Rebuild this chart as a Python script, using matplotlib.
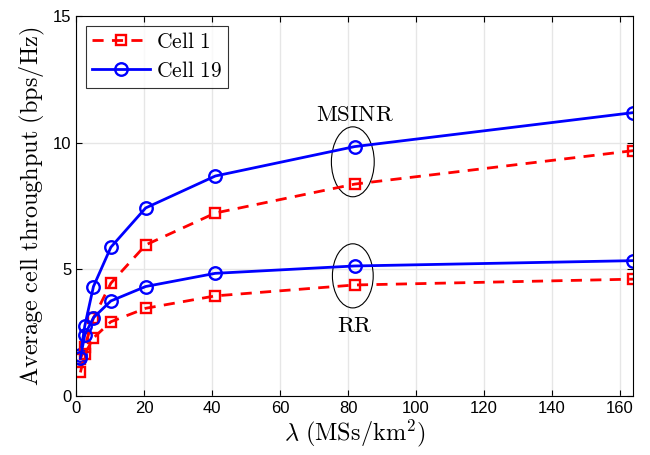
import matplotlib
matplotlib.use("Agg")
import matplotlib.pyplot as plt
from matplotlib.patches import Ellipse

plt.rcParams['mathtext.fontset'] = 'cm'
plt.rcParams['font.family'] = ['Liberation Sans', 'DejaVu Sans']

# data
lam = [1.28, 2.56, 5.12, 10.24, 20.48, 40.96, 81.92, 163.84]
cell1_msinr = [1.45, 1.95, 3.08, 4.45, 5.96, 7.22, 8.36, 9.68]
cell1_rr = [0.93, 1.65, 2.29, 2.93, 3.46, 3.95, 4.38, 4.61]
cell19_msinr = [1.60, 2.76, 4.32, 5.87, 7.42, 8.68, 9.84, 11.18]
cell19_rr = [1.49, 2.41, 3.09, 3.75, 4.32, 4.84, 5.13, 5.34]

fig = plt.figure(figsize=(6.5, 4.55), dpi=100)
ax = fig.add_axes([0.117, 0.1297, 0.857, 0.8355])

red = dict(color='r', ls='--', lw=2.0, marker='s', ms=7.5, mfc='none', mew=1.7, dashes=(4, 3))
blue = dict(color='b', ls='-', lw=2.0, marker='o', ms=9, mfc='none', mew=1.7)

ax.plot(lam, cell1_msinr, label=r'$\mathrm{Cell\ 1}$', **red)
ax.plot(lam, cell19_msinr, label=r'$\mathrm{Cell\ 19}$', **blue)
ax.plot(lam, cell1_rr, **red)
ax.plot(lam, cell19_rr, **blue)

# ellipses marking the two groups
ax.add_patch(Ellipse((81.4, 9.24), 12.6, 2.76, fill=False, ec='k', lw=0.8))
ax.add_patch(Ellipse((81.4, 4.74), 12.0, 2.53, fill=False, ec='k', lw=0.8))
ax.text(81.9, 11.1, r'$\mathrm{MSINR}$', ha='center', va='center', fontsize=16.5)
ax.text(81.9, 2.8, r'$\mathrm{RR}$', ha='center', va='center', fontsize=16.5)

ax.set_xlim(0, 163.84)
ax.set_ylim(0, 15)
ax.set_xticks(range(0, 161, 20))
ax.set_yticks([0, 5, 10, 15])
ax.grid(True, color='#e6e6e6', lw=1)
ax.set_axisbelow(True)
ax.tick_params(direction='in', top=True, right=True, labelsize=12, length=4)
for s in ax.spines.values():
    s.set_linewidth(0.8)

ax.set_xlabel(r'$\lambda\ \mathrm{(MSs/km^2)}$', fontsize=17.5, labelpad=1)
ax.set_ylabel(r'$\mathrm{Average\ cell\ throughput\ (bps/Hz)}$', fontsize=17.5, labelpad=4)

leg = ax.legend(loc='upper left', fontsize=15.5, fancybox=False, edgecolor='k',
                handlelength=2.7, handletextpad=0.25, borderpad=0.3, labelspacing=0.35,
                borderaxespad=0.45, numpoints=1)
leg.get_frame().set_linewidth(0.8)

fig.savefig('out.png', dpi=100)
